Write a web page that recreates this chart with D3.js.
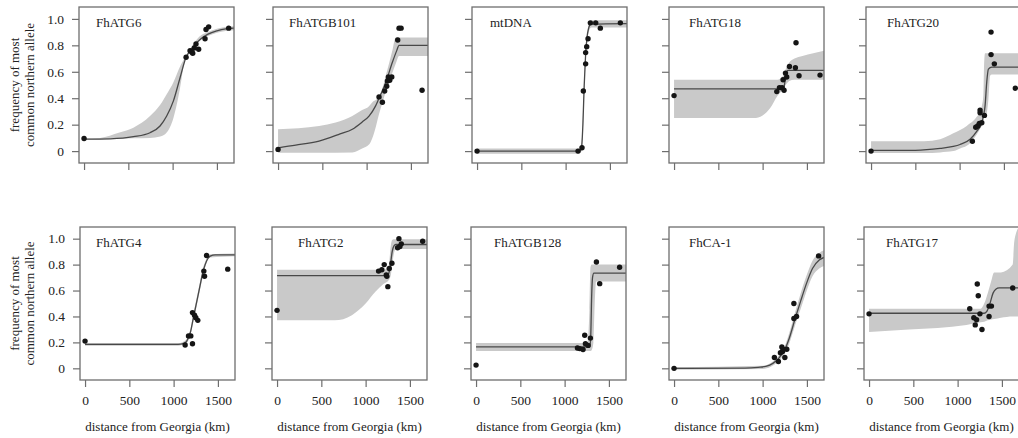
<!DOCTYPE html>
<html>
<head>
<meta charset="utf-8">
<script src="https://cdn.jsdelivr.net/npm/d3@7"></script>
<style>
  body { margin: 0; background: #fff; }
  svg { display: block; font-family: "Liberation Serif", "Times New Roman", serif; }
</style>
</head>
<body>
<svg id="chart" width="1018" height="438"></svg>
<script>
const panelNames = ["FhATG6", "FhATGB101", "mtDNA", "FhATG18", "FhATG20",
  "FhATG4", "FhATG2", "FhATGB128", "FhCA-1", "FhATG17"];
const xTicks = [0, 500, 1000, 1500];
const yTicks = [0, 0.2, 0.4, 0.6, 0.8, 1.0];
const xTitle = "distance from Georgia (km)";
const yTitleLines = ["frequency of most", "common northern allele"];

// [km, frequency]
const fhatg6Dots = [[0, 0.095], [1152, 0.71], [1197, 0.76], [1215, 0.75], [1227, 0.74], [1245, 0.78],
  [1264, 0.81], [1294, 0.77], [1366, 0.85], [1377, 0.92], [1407, 0.94], [1633, 0.93]];
const fhatg6Curve = [[0, 0.09], [300, 0.093], [557, 0.109], [745, 0.139], [858, 0.19], [933, 0.265],
  [1009, 0.38], [1084, 0.555], [1152, 0.71], [1200, 0.76], [1260, 0.81], [1320, 0.85],
  [1400, 0.885], [1500, 0.91], [1600, 0.925], [1693, 0.93]];
// [km, lower, upper]
const fhatg6Band = [[0, 0.088, 0.095], [181, 0.09, 0.10], [400, 0.095, 0.14], [557, 0.098, 0.177],
  [745, 0.10, 0.265], [860, 0.11, 0.35], [933, 0.14, 0.43], [1009, 0.25, 0.52], [1046, 0.35, 0.58],
  [1084, 0.48, 0.64], [1140, 0.69, 0.71], [1160, 0.715, 0.735], [1200, 0.745, 0.775], [1300, 0.83, 0.865],
  [1400, 0.87, 0.90], [1500, 0.895, 0.925], [1693, 0.915, 0.945]];

const fhatgb101Dots = [[0, 0.013], [1140, 0.41], [1178, 0.37], [1204, 0.455], [1227, 0.49], [1235, 0.53],
  [1246, 0.56], [1261, 0.535], [1284, 0.56], [1351, 0.84], [1366, 0.93], [1389, 0.93], [1626, 0.46]];
const fhatgb101Curve = [[0, 0.025], [200, 0.045], [463, 0.076], [700, 0.13], [839, 0.165], [950, 0.22],
  [1027, 0.265], [1100, 0.34], [1140, 0.40], [1180, 0.46], [1216, 0.52], [1290, 0.67], [1340, 0.76],
  [1366, 0.80], [1380, 0.80], [1693, 0.80]];
const fhatgb101Band = [[0, -0.013, 0.165], [463, -0.013, 0.19], [839, -0.01, 0.265], [949, 0.02, 0.31],
  [1027, 0.05, 0.34], [1065, 0.10, 0.37], [1110, 0.20, 0.39], [1140, 0.28, 0.41], [1180, 0.37, 0.48],
  [1216, 0.45, 0.57], [1290, 0.59, 0.76], [1328, 0.66, 0.86], [1366, 0.72, 0.86], [1693, 0.72, 0.86]];

const mtdnaDots = [[0, 0.0], [1140, 0.0], [1185, 0.025], [1200, 0.455], [1226, 0.66], [1226, 0.745],
  [1238, 0.79], [1253, 0.85], [1279, 0.97], [1340, 0.97], [1392, 0.93], [1618, 0.97]];
const mtdnaCurve = [[0, 0.0], [1160, 0.0], [1180, 0.03], [1195, 0.2], [1210, 0.5], [1225, 0.72],
  [1240, 0.85], [1260, 0.93], [1285, 0.96], [1693, 0.965]];
const mtdnaBand = [[0, -0.02, 0.02], [1150, -0.02, 0.02], [1180, 0.0, 0.06], [1195, 0.15, 0.27],
  [1210, 0.45, 0.56], [1225, 0.68, 0.77], [1245, 0.83, 0.90], [1265, 0.91, 0.97], [1290, 0.935, 0.99],
  [1693, 0.935, 0.99]];

const fhatg18Dots = [[0, 0.42], [1160, 0.45], [1190, 0.48], [1220, 0.48], [1242, 0.46], [1231, 0.54],
  [1258, 0.59], [1272, 0.56], [1303, 0.64], [1370, 0.63], [1377, 0.82], [1411, 0.57], [1648, 0.575]];
const fhatg18Curve = [[0, 0.47], [1225, 0.47], [1240, 0.48], [1255, 0.54], [1270, 0.60], [1285, 0.61],
  [1693, 0.61]];
const fhatg18Band = [[0, 0.25, 0.54], [900, 0.25, 0.54], [1000, 0.27, 0.54], [1090, 0.33, 0.54],
  [1170, 0.42, 0.54], [1220, 0.46, 0.56], [1260, 0.50, 0.62], [1300, 0.53, 0.67], [1360, 0.54, 0.70],
  [1450, 0.54, 0.72], [1693, 0.54, 0.76]];

const fhatg20Dots = [[0, 0.0], [1144, 0.074], [1182, 0.18], [1205, 0.19], [1223, 0.21], [1231, 0.29],
  [1231, 0.31], [1250, 0.215], [1280, 0.27], [1355, 0.73], [1355, 0.90], [1392, 0.66], [1629, 0.475]];
const fhatg20Curve = [[0, 0.005], [500, 0.006], [779, 0.02], [929, 0.035], [1005, 0.05], [1118, 0.09],
  [1193, 0.15], [1250, 0.215], [1268, 0.265], [1287, 0.34], [1306, 0.52], [1325, 0.62], [1363, 0.635],
  [1693, 0.635]];
const fhatg20Band = [[0, -0.015, 0.074], [600, -0.015, 0.075], [780, -0.01, 0.09], [929, 0.0, 0.135],
  [1005, 0.02, 0.16], [1080, 0.04, 0.19], [1118, 0.06, 0.21], [1155, 0.09, 0.23], [1193, 0.125, 0.26],
  [1231, 0.17, 0.30], [1250, 0.19, 0.34], [1268, 0.23, 0.42], [1276, 0.25, 0.65], [1287, 0.27, 0.74],
  [1306, 0.29, 0.74], [1325, 0.39, 0.74], [1344, 0.57, 0.74], [1363, 0.58, 0.74], [1693, 0.58, 0.74]];

const fhatg4Dots = [[0, 0.21], [1130, 0.18], [1168, 0.25], [1194, 0.25], [1213, 0.19], [1213, 0.43],
  [1236, 0.41], [1251, 0.39], [1273, 0.37], [1341, 0.75], [1349, 0.71], [1372, 0.87], [1611, 0.765]];
const fhatg4Curve = [[0, 0.185], [1050, 0.185], [1110, 0.19], [1148, 0.21], [1190, 0.28], [1223, 0.39],
  [1260, 0.51], [1299, 0.64], [1330, 0.74], [1356, 0.80], [1385, 0.845], [1413, 0.865], [1470, 0.875],
  [1693, 0.875]];
const fhatg4Band = [[0, 0.175, 0.195], [1050, 0.175, 0.195], [1148, 0.195, 0.225], [1190, 0.26, 0.30],
  [1223, 0.36, 0.42], [1260, 0.48, 0.54], [1299, 0.61, 0.67], [1330, 0.71, 0.77], [1356, 0.78, 0.82],
  [1413, 0.855, 0.88], [1693, 0.865, 0.885]];

const fhatg2Dots = [[0, 0.447], [1146, 0.75], [1183, 0.76], [1210, 0.80], [1233, 0.72], [1240, 0.71],
  [1251, 0.63], [1267, 0.77], [1297, 0.81], [1361, 0.93], [1376, 1.0], [1387, 0.94], [1403, 0.96],
  [1644, 0.98]];
const fhatg2Curve = [[0, 0.715], [1240, 0.715], [1260, 0.73], [1280, 0.80], [1300, 0.90], [1320, 0.945],
  [1340, 0.955], [1693, 0.955]];
const fhatg2Band = [[0, 0.37, 0.76], [650, 0.37, 0.76], [845, 0.41, 0.76], [1000, 0.50, 0.76],
  [1110, 0.59, 0.76], [1200, 0.65, 0.76], [1260, 0.68, 0.79], [1285, 0.72, 0.95], [1300, 0.80, 0.99],
  [1315, 0.87, 0.995], [1340, 0.92, 0.995], [1693, 0.92, 0.995]];

const fhatgb128Dots = [[0, 0.025], [1145, 0.157], [1171, 0.152], [1208, 0.145], [1227, 0.255],
  [1235, 0.19], [1265, 0.177], [1291, 0.233], [1359, 0.82], [1396, 0.653], [1621, 0.78]];
const fhatgb128Curve = [[0, 0.165], [1285, 0.165], [1295, 0.25], [1305, 0.55], [1315, 0.70],
  [1330, 0.735], [1693, 0.735]];
const fhatgb128Band = [[0, 0.134, 0.195], [1260, 0.134, 0.195], [1280, 0.134, 0.45], [1292, 0.134, 0.78],
  [1305, 0.14, 0.80], [1325, 0.20, 0.80], [1340, 0.50, 0.80], [1355, 0.67, 0.80], [1693, 0.67, 0.80]];

const fhca1Dots = [[0, 0.0], [1133, 0.084], [1178, 0.053], [1201, 0.12], [1217, 0.165], [1225, 0.13],
  [1232, 0.147], [1251, 0.084], [1273, 0.147], [1353, 0.50], [1353, 0.384], [1383, 0.40], [1632, 0.867]];
const fhca1Curve = [[0, 0.0], [800, 0.002], [950, 0.008], [1036, 0.015], [1120, 0.04], [1186, 0.08],
  [1261, 0.16], [1300, 0.23], [1370, 0.39], [1430, 0.52], [1488, 0.64], [1563, 0.77], [1639, 0.835],
  [1693, 0.855]];
const fhca1Band = [[0, -0.01, 0.01], [1000, -0.005, 0.02], [1186, 0.06, 0.10], [1261, 0.13, 0.19],
  [1300, 0.19, 0.27], [1370, 0.34, 0.44], [1430, 0.46, 0.58], [1488, 0.58, 0.70], [1563, 0.71, 0.83],
  [1639, 0.77, 0.89], [1693, 0.79, 0.91]];

const fhatg17Dots = [[0, 0.42], [1137, 0.46], [1183, 0.39], [1199, 0.335], [1214, 0.375], [1222, 0.65],
  [1233, 0.56], [1252, 0.42], [1275, 0.30], [1355, 0.48], [1382, 0.48], [1355, 0.40], [1622, 0.62]];
const fhatg17Curve = [[0, 0.425], [1298, 0.425], [1330, 0.44], [1365, 0.50], [1400, 0.58], [1431, 0.61],
  [1470, 0.62], [1693, 0.62]];
const fhatg17Band = [[0, 0.28, 0.46], [450, 0.30, 0.46], [1100, 0.335, 0.46], [1260, 0.355, 0.46],
  [1300, 0.36, 0.50], [1340, 0.37, 0.58], [1374, 0.375, 0.66], [1413, 0.38, 0.74], [1489, 0.39, 0.74],
  [1622, 0.40, 0.80], [1640, 0.40, 0.98], [1693, 0.40, 1.09]];

const panelData = [
  { dots: fhatg6Dots, curve: fhatg6Curve, band: fhatg6Band },
  { dots: fhatgb101Dots, curve: fhatgb101Curve, band: fhatgb101Band },
  { dots: mtdnaDots, curve: mtdnaCurve, band: mtdnaBand },
  { dots: fhatg18Dots, curve: fhatg18Curve, band: fhatg18Band },
  { dots: fhatg20Dots, curve: fhatg20Curve, band: fhatg20Band },
  { dots: fhatg4Dots, curve: fhatg4Curve, band: fhatg4Band },
  { dots: fhatg2Dots, curve: fhatg2Curve, band: fhatg2Band },
  { dots: fhatgb128Dots, curve: fhatgb128Curve, band: fhatgb128Band },
  { dots: fhca1Dots, curve: fhca1Curve, band: fhca1Band },
  { dots: fhatg17Dots, curve: fhatg17Curve, band: fhatg17Band },
];

const svg = d3.select("#chart");
//Layout of the two rows of panels
const rows = [
  { top: 7, height: 156, lefts: [79, 273, 472, 669, 866] },
  { top: 227, height: 153, lefts: [80, 272, 471, 669, 864] },
];
const boxWidth = 155;
const labelOffsets = [17, 16, 18, 20, 21, 16, 26, 23, 20, 22];
const boxColor = "#6e6e6e";
const textColor = "#222";
const fontFamily = '"Liberation Serif", "Times New Roman", serif';

const yFormat = (d) => (d === 0 ? "0" : d3.format(".1f")(d));

panelNames.forEach((name, i) => {
  const rowIndex = Math.floor(i / 5);
  const col = i % 5;
  const row = rows[rowIndex];
  const left = row.lefts[col];
  const top = row.top;
  const bottom = top + row.height;
  const data = panelData[i];

  const xScale = d3.scaleLinear().domain([-57, 1693]).range([left, left + boxWidth]);
  const yScale = d3.scaleLinear().domain([-0.09, 1.09]).range([bottom, top]);

  const g = svg.append("g").attr("class", "panel").attr("font-family", fontFamily);

  //clip so the band stays inside the box
  g.append("clipPath")
    .attr("id", `clip-${i}`)
    .append("rect")
    .attr("x", left)
    .attr("y", top)
    .attr("width", boxWidth)
    .attr("height", row.height);

  const plot = g.append("g").attr("clip-path", `url(#clip-${i})`);

  const area = d3
    .area()
    .x((d) => xScale(d[0]))
    .y0((d) => yScale(d[1]))
    .y1((d) => yScale(d[2]))
    .curve(d3.curveMonotoneX);

  plot.append("path").attr("d", area(data.band)).attr("fill", "#c9c9c9");

  const line = d3
    .line()
    .x((d) => xScale(d[0]))
    .y((d) => yScale(d[1]))
    .curve(d3.curveMonotoneX);

  plot
    .append("path")
    .attr("d", line(data.curve))
    .attr("fill", "none")
    .attr("stroke", "#484848")
    .attr("stroke-width", 1.3);

  plot
    .selectAll("circle")
    .data(data.dots)
    .enter()
    .append("circle")
    .attr("cx", (d) => xScale(d[0]))
    .attr("cy", (d) => yScale(d[1]))
    .attr("r", 2.7)
    .attr("fill", "#151515");

  //box
  g.append("rect")
    .attr("x", left)
    .attr("y", top)
    .attr("width", boxWidth)
    .attr("height", row.height)
    .attr("fill", "none")
    .attr("stroke", boxColor)
    .attr("stroke-width", 1.3);

  //axes
  const xAxis = d3
    .axisBottom(xScale)
    .tickValues(xTicks)
    .tickSize(7)
    .tickPadding(8)
    .tickFormat(rowIndex === 1 ? d3.format("d") : "");
  const yAxis = d3
    .axisLeft(yScale)
    .tickValues(yTicks)
    .tickSize(7)
    .tickPadding(8)
    .tickFormat(col === 0 ? yFormat : "");

  [
    g.append("g").attr("transform", `translate(0,${bottom})`).call(xAxis),
    g.append("g").attr("transform", `translate(${left},0)`).call(yAxis),
  ].forEach((ax) => {
    ax.attr("font-family", fontFamily).attr("font-size", 13.5);
    ax.select(".domain").remove();
    ax.selectAll("line").attr("stroke", boxColor).attr("stroke-width", 1.2);
    ax.selectAll("text").attr("fill", textColor);
  });

  //panel label
  g.append("text")
    .attr("x", left + labelOffsets[i])
    .attr("y", top + 20)
    .attr("fill", textColor)
    .attr("font-size", 13)
    .text(name);

  //x title under the bottom row
  if (rowIndex === 1) {
    g.append("text")
      .attr("x", left + boxWidth / 2)
      .attr("y", 431)
      .attr("text-anchor", "middle")
      .attr("fill", textColor)
      .attr("font-size", 13)
      .text(xTitle);
  }

  //y title next to the first column
  if (col === 0) {
    const midY = (top + bottom) / 2;
    yTitleLines.forEach((t, j) => {
      g.append("text")
        .attr("transform", `translate(${19 + j * 15},${midY}) rotate(-90)`)
        .attr("text-anchor", "middle")
        .attr("fill", textColor)
        .attr("font-size", 13)
        .text(t);
    });
  }
});
</script>
</body>
</html>
